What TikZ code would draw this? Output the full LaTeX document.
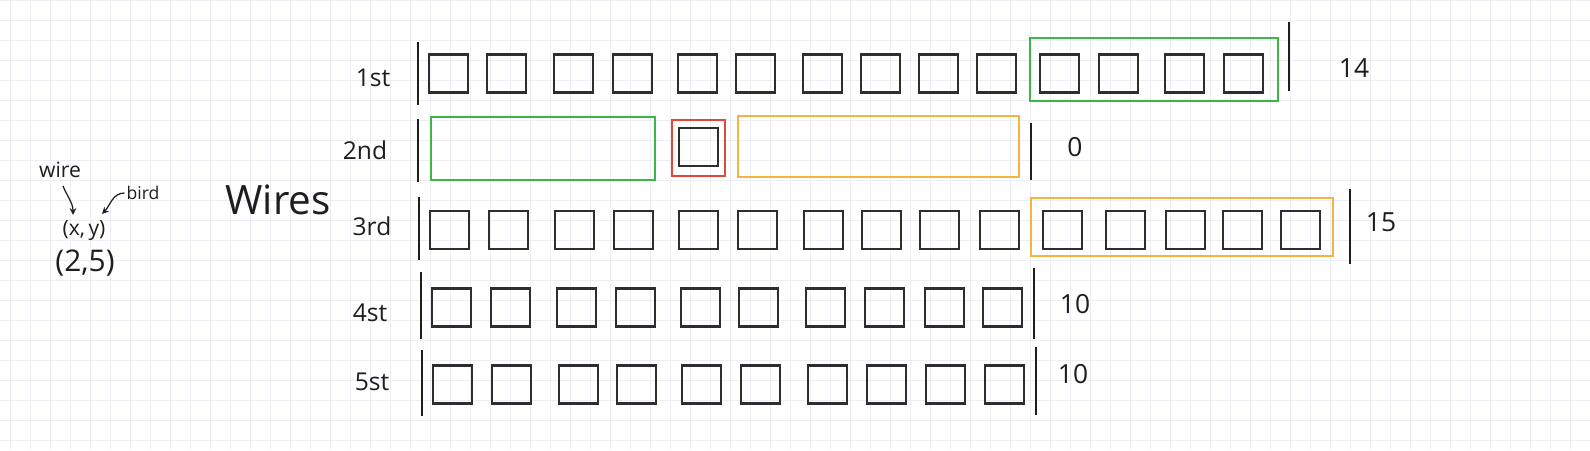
\documentclass[tikz,border=0pt]{standalone}
\usepackage{fontspec}
\setmainfont{Open Sans}
\usetikzlibrary{positioning}

\definecolor{gridblue}{HTML}{ECEEF5}
\definecolor{boxgrey}{HTML}{2E2E2E}
\definecolor{inkblack}{HTML}{1E1E1E}
\definecolor{markgreen}{HTML}{3DB547}
\definecolor{markred}{HTML}{E2473C}
\definecolor{markorange}{HTML}{F5B43C}

\begin{document}
\begin{tikzpicture}[
        x=0.02cm, y=-0.02cm,
        >=stealth,
        gridline/.style={draw=gridblue, line width=0.5pt},
        seat/.style={draw=boxgrey, rectangle, line width=1.6pt, minimum width=0.78cm, minimum height=0.76cm, inner sep=0pt},
        wirebar/.style={draw=inkblack, line width=1.5pt},
        group/.style={line width=1.3pt},
        rowlabel/.style={text=inkblack, font=\fontsize{14}{16}\selectfont},
        countlabel/.style={text=inkblack, font=\fontsize{15}{17}\selectfont},
        note/.style={text=inkblack, inner sep=1pt},
        pointer/.style={->, draw=inkblack, line width=0.7pt}
    ]
        % Paper and grid
        \useasboundingbox (0,0) rectangle (1590,450);
        \fill[white] (0,0) rectangle (1590,450);
        \foreach \gx in {10,30,...,1590}
            \draw[gridline] (\gx,0) -- (\gx,450);
        \foreach \gy in {0,20,...,450}
            \draw[gridline] (0,\gy) -- (1590,\gy);

        % Legend on the left
        \node (wire) [note, font=\fontsize{12}{14}\selectfont] at (60,170) {wire};
        \node (bird) [note, font=\fontsize{10}{12}\selectfont] at (143,193) {bird};
        \node (xy) [note, font=\fontsize{12}{14}\selectfont] at (84,231) {(x,\,y)};
        \node (pair) [note, font=\fontsize{17}{19}\selectfont] at (85,263) {(2,5)};
        \draw[pointer] ([xshift=0.06cm, yshift=-0.12cm]wire.south) .. controls +(4,10) and +(0,-12) .. ([xshift=-0.22cm, yshift=0.08cm]xy.north);
        \draw[pointer] (bird.west) .. controls +(-12,0) and +(8,-8) .. ([xshift=0.36cm, yshift=0.1cm]xy.north);

        \node (title) [text=inkblack, font=\fontsize{23}{26}\selectfont] at (278,200) {Wires};

        % Row labels
        \node (lab1) [rowlabel] at (373,78) {1st};
        \node (lab2) [rowlabel] at (365,150) {2nd};
        \node (lab3) [rowlabel] at (372,226) {3rd};
        \node (lab4) [rowlabel] at (370,313) {4st};
        \node (lab5) [rowlabel] at (372,382) {5st};

        % Wire ends
        \draw[wirebar] (418,42) -- (418,105);
        \draw[wirebar] (1289,22) -- (1289,91);
        \draw[wirebar] (418,119) -- (418,182);
        \draw[wirebar] (1031,123) -- (1031,180);
        \draw[wirebar] (419,197) -- (419,260);
        \draw[wirebar] (1350,189) -- (1350,264);
        \draw[wirebar] (421,272) -- (421,339);
        \draw[wirebar] (1034,268) -- (1034,339);
        \draw[wirebar] (422,350) -- (422,416);
        \draw[wirebar] (1036,347) -- (1036,415);

        % Birds on each wire
        \foreach \x [count=\i] in {429,487,554,613,678,736,803,861,919,977,1040,1099,1165,1224}
            \node (r1b\i) [seat] at (\x+19.5,73.5) {};
        \node (r2b1) [seat] at (698.5,147) {};
        \foreach \x [count=\i] in {430,489,555,614,679,738,804,862,920,980,1043,1106,1166,1223,1281}
            \node (r3b\i) [seat] at (\x+19.5,230) {};
        \foreach \x [count=\i] in {432,491,557,616,681,739,806,865,925,983}
            \node (r4b\i) [seat] at (\x+19.5,307.5) {};
        \foreach \x [count=\i] in {433,492,559,617,682,741,808,867,926,985}
            \node (r5b\i) [seat] at (\x+19.5,384.5) {};

        % Marked groups
        \draw[group, markgreen] (1030,38) rectangle (1278,101);
        \draw[group, markgreen] (431,117) rectangle (655,180);
        \draw[group, markred] (672,120) rectangle (725,176);
        \draw[group, markorange] (738,116) rectangle (1019,177);
        \draw[group, markorange] (1031,198) rectangle (1333,256);

        % Counts
        \node (cnt1) [countlabel] at (1354,68) {14};
        \node (cnt2) [countlabel] at (1075,147) {0};
        \node (cnt3) [countlabel] at (1381,222) {15};
        \node (cnt4) [countlabel] at (1075,304) {10};
        \node (cnt5) [countlabel] at (1073,374) {10};
    \end{tikzpicture}
\end{document}
